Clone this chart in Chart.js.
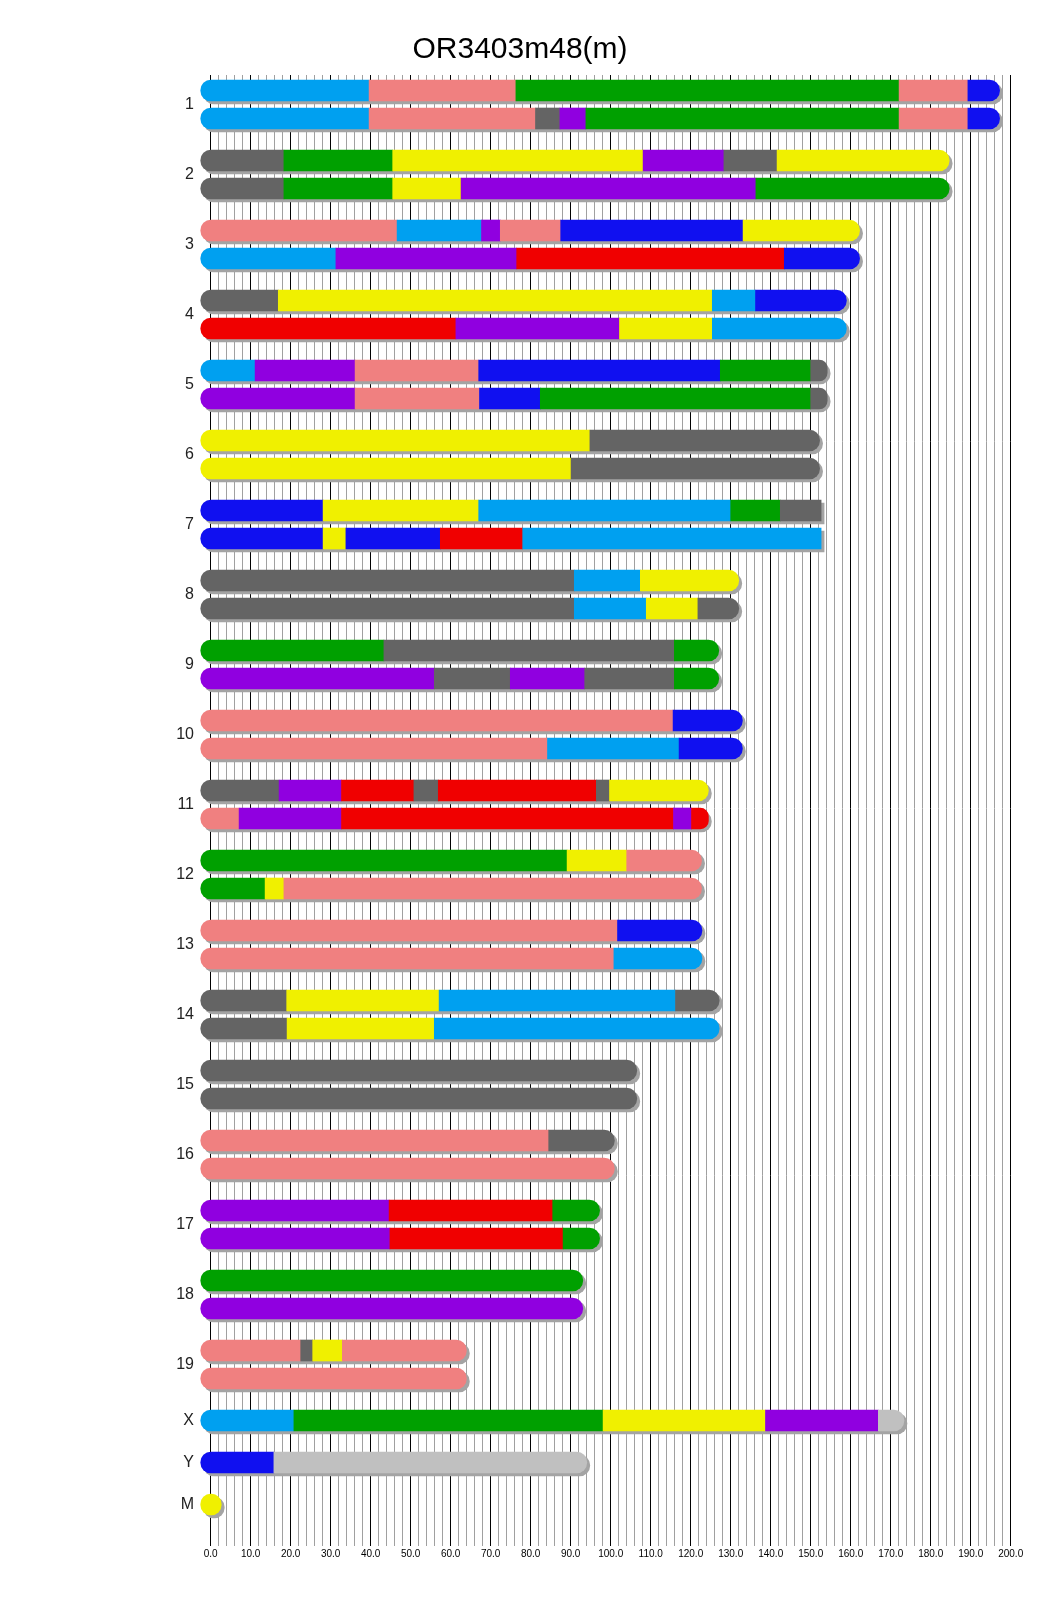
<!DOCTYPE html>
<html>
<head>
<meta charset="utf-8">
<title>OR3403m48(m)</title>
<script src="https://cdn.jsdelivr.net/npm/chart.js@4.4.1/dist/chart.umd.min.js"></script>
<style>
  html, body { margin: 0; padding: 0; background: #fff; }
  #myChartdiv { width: 1040px; height: 1616px; }
</style>
</head>
<body>
<div id="myChartdiv"><canvas id="myChart" width="1040" height="1616"></canvas></div>
<script>
var title = "OR3403m48(m)";

// chromosomes and their lengths (Mb)
var chromNames = ["1", "2", "3", "4", "5", "6", "7", "8", "9", "10", "11", "12", "13", "14", "15", "16", "17", "18", "19", "X", "Y", "M"];
var chromLengths = [194.6, 182.0, 159.6, 156.3, 151.5, 149.6, 152.6, 129.4, 124.4, 130.3, 121.8, 120.1, 120.2, 124.5, 103.9, 98.3, 94.6, 90.4, 61.3, 170.7, 91.4, 0.016];
var squareEnds = ["7"];

// founder codes -> colours (U = unknown)
var founderCodes = ["A", "B", "C", "D", "E", "F", "G", "H", "U"];
var founderColors = ["#f0f000", "#646464", "#f08080", "#1010f0", "#00a0f0", "#00a000", "#f00000", "#9000e0", "#c0c0c0"];

// first copy: founder of each segment, and the breakpoints between them (Mb)
var copy1Founders = ["ECFCD", "BFAHBA", "CEHCDA", "BAED", "EHCDFB", "AB", "DAEFB", "BEA", "FBF", "CD",
    "BHGBGBA", "FAC", "CD", "BAEB", "B", "CB", "HGF", "F", "CBAC", "EFAHU", "DU", "A"];
var copy1Breaks = [
    [39.6, 76.3, 172.1, 189.3],
    [18.3, 45.5, 108.1, 128.3, 141.6],
    [46.6, 67.7, 72.4, 87.5, 133.1],
    [16.9, 125.4, 136.2],
    [11.1, 36.1, 67.0, 127.4, 150.0],
    [94.8],
    [28.1, 67.0, 130.0, 142.4],
    [90.9, 107.4],
    [43.3, 115.9],
    [115.6],
    [17.1, 32.7, 50.8, 56.9, 96.4, 99.7],
    [89.1, 104.0],
    [101.7],
    [19.0, 57.1, 116.2],
    [],
    [84.5],
    [44.6, 85.5],
    [],
    [22.5, 25.5, 32.9],
    [20.8, 98.1, 138.7, 166.9],
    [15.8],
    []
];

// second copy (none for X, Y, M)
var copy2Founders = ["ECBHFCD", "BFAHF", "EHGD", "GHAE", "HCDFB", "AB", "DADGE", "BEAB", "HBHBF", "CED",
    "CHGHG", "FAC", "CE", "BAE", "B", "C", "HGF", "H", "C", "", "", ""];
var copy2Breaks = [
    [39.6, 81.2, 87.3, 93.8, 172.1, 189.3],
    [18.3, 45.5, 62.6, 136.3],
    [31.3, 76.5, 143.4],
    [61.3, 102.2, 125.4],
    [36.1, 67.2, 82.4, 150.0],
    [90.1],
    [28.1, 33.8, 57.4, 78.0],
    [90.9, 108.9, 121.8],
    [55.9, 74.9, 93.5, 115.9],
    [84.2, 117.1],
    [7.1, 32.7, 115.7, 120.2],
    [13.6, 18.3],
    [100.8],
    [19.1, 55.9],
    [],
    [],
    [44.8, 88.1],
    [],
    [],
    [], [], []
];

// axis
var xTickValues = [0, 10, 20, 30, 40, 50, 60, 70, 80, 90, 100, 110, 120, 130, 140, 150, 160, 170, 180, 190, 200];
var xTickLabels = ["0.0", "10.0", "20.0", "30.0", "40.0", "50.0", "60.0", "70.0", "80.0", "90.0", "100.0",
    "110.0", "120.0", "130.0", "140.0", "150.0", "160.0", "170.0", "180.0", "190.0", "200.0"];
var minorStep = 2;


var R = 10.5;      // round end of a chromosome
var SHX = 3, SHY = 3;
var zeroPx = 210.7, pxPerMb = 4;
var areaTop = 75, areaBottom = 1542, firstRowPx = 90.5, rowPx = 14;

function rowOf(i, copy) {
    return i < 19 ? 5 * i + 2 * copy : 95 + 3 * (i - 19);
}

var segData = [], segColors = [], segFirst = [], segLast = [], segSquare = [];
var shadowData = [], shadowSquare = [];
var labelRows = [];

for (let i = 0; i < chromNames.length; i++) {
    labelRows.push(i < 19 ? 5 * i + 1 : rowOf(i, 0));
    let copies = [[copy1Founders[i], copy1Breaks[i]], [copy2Founders[i], copy2Breaks[i]]];
    for (let c = 0; c < 2; c++) {
        let f = copies[c][0], b = copies[c][1];
        if (!f) continue;
        let row = rowOf(i, c);
        let sq = squareEnds.indexOf(chromNames[i]) >= 0;
        let start = 0;
        for (let k = 0; k < f.length; k++) {
            let end = k < b.length ? b[k] : chromLengths[i];
            segData.push({ x: [start, end], y: row });
            segColors.push(founderColors[founderCodes.indexOf(f[k])]);
            segFirst.push(k == 0);
            segLast.push(k == f.length - 1);
            segSquare.push(sq);
            start = end;
        }
        shadowData.push({ x: [0, chromLengths[i]], y: row });
        shadowSquare.push(sq);
    }
}

var endsPlugin = {
    id: 'ends',
    afterDatasetsUpdate: function (chart) {
        chart.getDatasetMeta(0).data.forEach(function (el, i) {
            if (segFirst[i]) el.base -= R;
            if (segLast[i] && !segSquare[i]) el.x += R;
        });
        chart.getDatasetMeta(1).data.forEach(function (el, i) {
            el.base += SHX - R;
            el.x += SHX + (shadowSquare[i] ? 0 : R);
            el.y += SHY;
        });
    }
};

Chart.defaults.font.family = "'Liberation Sans', Arial, sans-serif";

var ctx = document.getElementById('myChart').getContext('2d');
var myChart = new Chart(ctx, {
    type: 'bar',
    data: {
        datasets: [{
            label: 'segments',
            data: segData,
            backgroundColor: segColors,
            borderWidth: 0,
            borderSkipped: false,
            borderRadius: function (c) {
                let i = c.dataIndex;
                let l = segFirst[i] ? R : 0;
                let r = segLast[i] && !segSquare[i] ? R : 0;
                return { topLeft: l, bottomLeft: l, topRight: r, bottomRight: r };
            },
            barThickness: 21,
            grouped: false,
            clip: false,
            order: 1
        }, {
            label: 'shadow',
            data: shadowData,
            backgroundColor: '#a4a4a4',
            borderWidth: 0,
            borderSkipped: false,
            borderRadius: function (c) {
                let r = shadowSquare[c.dataIndex] ? 0 : R;
                return { topLeft: R, bottomLeft: R, topRight: r, bottomRight: r };
            },
            barThickness: 21,
            grouped: false,
            clip: false,
            order: 2
        }]
    },
    options: {
        indexAxis: 'y',
        responsive: false,
        animation: false,
        events: [],
        layout: { padding: 0 },
        plugins: {
            legend: { display: false },
            tooltip: { enabled: false },
            title: {
                display: true,
                text: title,
                color: '#000',
                font: { size: 30, weight: 'normal' },
                padding: { top: 32, bottom: 7 }
            }
        },
        scales: {
            x: {
                type: 'linear',
                position: 'bottom',
                min: (200 - zeroPx) / pxPerMb,
                max: (1040 - zeroPx) / pxPerMb,
                afterBuildTicks: function (scale) {
                    let t = [];
                    for (let v = xTickValues[0]; v <= xTickValues[xTickValues.length - 1]; v += minorStep) t.push({ value: v });
                    scale.ticks = t;
                },
                afterFit: function (scale) { scale.height = 1616 - areaBottom; },
                grid: {
                    color: function (c) { return xTickValues.indexOf(c.tick.value) >= 0 ? '#000000' : '#a0a0a0'; },
                    lineWidth: 1,
                    tickLength: 4
                },
                border: { display: false },
                ticks: {
                    autoSkip: false,
                    maxRotation: 0,
                    padding: 2,
                    color: '#000',
                    font: { size: 10 },
                    callback: function (value) {
                        let k = xTickValues.indexOf(value);
                        return k >= 0 ? xTickLabels[k] : '';
                    }
                }
            },
            y: {
                type: 'linear',
                reverse: true,
                offset: false,
                min: (areaTop - firstRowPx) / rowPx,
                max: (areaBottom - firstRowPx) / rowPx,
                afterBuildTicks: function (scale) {
                    scale.ticks = labelRows.map(function (v) { return { value: v }; });
                },
                afterFit: function (scale) { scale.width = 200; },
                grid: { display: false, drawTicks: false, offset: false },
                border: { display: false },
                ticks: {
                    autoSkip: false,
                    padding: 6,
                    color: '#222',
                    font: { size: 16 },
                    callback: function (value, index) { return chromNames[index]; }
                }
            }
        }
    },
    plugins: [endsPlugin]
});
</script>
</body>
</html>
